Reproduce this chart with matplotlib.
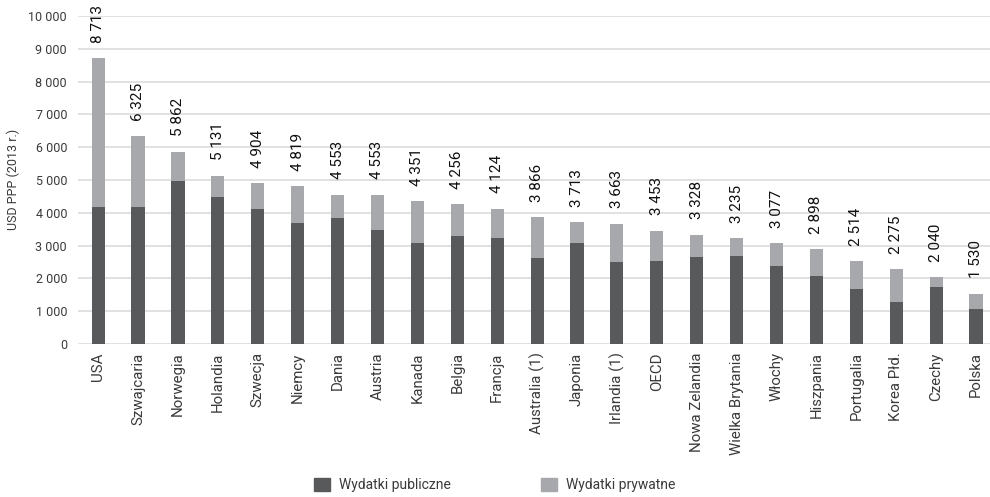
import matplotlib
matplotlib.use("Agg")
import matplotlib.pyplot as plt
from matplotlib.ticker import FuncFormatter
from matplotlib.patches import Patch

# wydatki na ucznia, USD PPP (2013 r.)
countries = ["USA", "Szwajcaria", "Norwegia", "Holandia", "Szwecja", "Niemcy",
             "Dania", "Austria", "Kanada", "Belgia", "Francja", "Australia (1)",
             "Japonia", "Irlandia (1)", "OECD", "Nowa Zelandia", "Wielka Brytania",
             "Włochy", "Hiszpania", "Portugalia", "Korea Płd.", "Czechy", "Polska"]
totals = [8713, 6325, 5862, 5131, 4904, 4819, 4553, 4553, 4351, 4256, 4124, 3866,
          3713, 3663, 3453, 3328, 3235, 3077, 2898, 2514, 2275, 2040, 1530]
public = [4180, 4170, 4965, 4487, 4112, 3676, 3828, 3472, 3067, 3300, 3240, 2610,
          3067, 2498, 2519, 2650, 2680, 2366, 2071, 1675, 1270, 1727, 1075]
private = [t - p for t, p in zip(totals, public)]

plt.rcParams["font.family"] = ["Roboto", "DejaVu Sans"]
c_pub = "#58595b"
c_priv = "#a7a8ab"
txt = "#3a3a3a"

fig = plt.figure(figsize=(9.9, 4.97), dpi=100)
ax = fig.add_axes([0.079, 0.308, 0.921, 0.660])

x = range(len(countries))
ax.bar(x, public, width=0.33, color=c_pub, zorder=3)
ax.bar(x, private, bottom=public, width=0.33, color=c_priv, zorder=3)

# suma nad kazdym slupkiem
for i, t in enumerate(totals):
    ax.annotate(f"{t:,}".replace(",", " "), (i, t), xytext=(0, 11),
                textcoords="offset points", rotation=90, ha="center", va="bottom",
                fontsize=11, color="#111111")

ax.set_xlim(-0.5, 22.35)
ax.set_ylim(0, 10000)
ax.set_yticks(range(0, 10001, 1000))
ax.yaxis.set_major_formatter(FuncFormatter(lambda v, _: f"{int(v):,}".replace(",", " ")))
ax.set_xticks(list(x))
ax.set_xticklabels(countries, rotation=90, fontsize=10.8, color=txt)
ax.tick_params(axis="y", labelsize=9, labelcolor=txt, length=0, pad=8)
ax.tick_params(axis="x", length=0, pad=6)
ax.grid(axis="y", color="#dcdcdc", linewidth=1.2, zorder=0)
for s in ax.spines.values():
    s.set_visible(False)
ax.set_ylabel("USD PPP (2013 r.)", fontsize=9, color=txt, labelpad=6)

handles = [Patch(color=c_pub, label="Wydatki publiczne"),
           Patch(color=c_priv, label="Wydatki prywatne")]
fig.legend(handles=handles, loc="center", bbox_to_anchor=(0.5, 0.024), ncol=2,
           frameon=False, fontsize=10, handlelength=1.1, handleheight=1.1,
           columnspacing=6.5, handletextpad=0.7, labelcolor=txt)

fig.savefig("out.png", dpi=100)
